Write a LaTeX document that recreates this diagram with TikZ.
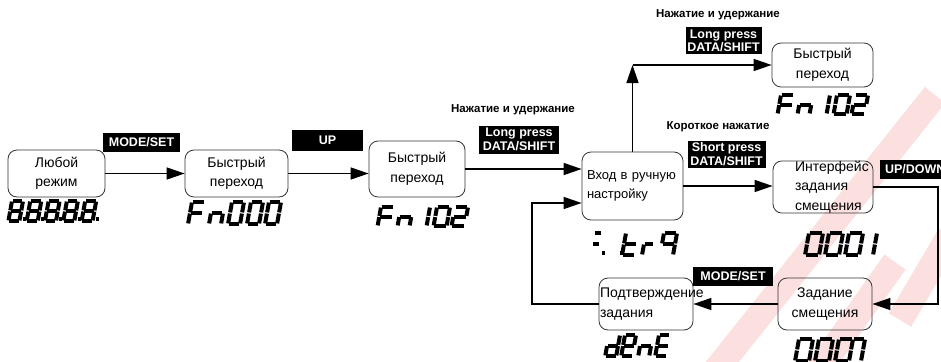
\documentclass[tikz,border=0pt]{standalone}
\usepackage{fontspec}
\setmainfont{Liberation Sans}
\usetikzlibrary{arrows.meta, calc}

\definecolor{markColour}{HTML}{FCE0E0}

\tikzset{
    statebox/.style={draw=black!80, line width=0.8pt, rounded corners=9pt, inner sep=0pt, font=\fontsize{14}{19.5}\selectfont},
    keylabel/.style={fill=black, text=white, font=\bfseries\fontsize{12.5}{13.5}\selectfont, inner sep=0pt, align=center},
    note/.style={font=\bfseries\fontsize{11.5}{13}\selectfont, inner sep=0pt},
    link/.style={line width=1.5pt, -{Triangle[length=18pt,width=12pt]}},
    segline/.style={line width=4pt, shorten >=0.6pt, shorten <=0.6pt},
    watermark/.style={markColour, line width=26pt}
}

% Seven segment character: x, y (top), width, height, segments
\newcommand{\segglyph}[5]{%
    \begin{scope}[shift={(#1,#2)}, xslant=0.18]
        \coordinate (a1) at (0,0);      \coordinate (a2) at (#3,0);
        \coordinate (b1) at (#3,0);     \coordinate (b2) at (#3,#4/2);
        \coordinate (c1) at (#3,#4/2);  \coordinate (c2) at (#3,#4);
        \coordinate (d1) at (0,#4);     \coordinate (d2) at (#3,#4);
        \coordinate (e1) at (0,#4/2);   \coordinate (e2) at (0,#4);
        \coordinate (f1) at (0,0);      \coordinate (f2) at (0,#4/2);
        \coordinate (g1) at (0,#4/2);   \coordinate (g2) at (#3,#4/2);
        \coordinate (p1) at (#3+2.5,#4-2);  \coordinate (p2) at (#3+6.7,#4-2);
        \foreach \s in {#5}
            \draw[segline] (\s1) -- (\s2);
    \end{scope}}

\begin{document}
\begin{tikzpicture}[x=1pt, y=-1pt]
    \useasboundingbox (0,0) rectangle (941,361);

    % Watermark in the background
    \draw[watermark] (712,375) -- (935,95);
    \draw[watermark] (815,375) -- (895,262);
    \draw[watermark] (900,320) -- (950,235);

    % Draw the states
    \node[statebox, text width=97pt, minimum height=47pt, align=center] (anyMode) at (56.5,173.5) {Любой\\режим};
    \node[statebox, text width=103pt, minimum height=47pt, align=center] (quickOne) at (236.5,173.5) {Быстрый\\переход};
    \node[statebox, text width=96pt, minimum height=56pt, align=center] (quickTwo) at (417,169) {Быстрый\\переход};
    \node[statebox, font=\fontsize{13}{19}\selectfont, text width=91pt, inner xsep=5pt, minimum height=68pt, align=left] (manualSet) at (632.5,186) {Вход в ручную\\настройку};
    \node[statebox, text width=101pt, minimum height=44pt, align=center] (quickTop) at (822.5,65) {Быстрый\\переход};
    \node[statebox, text width=56pt, inner xsep=22pt, minimum height=50pt, align=left] (offsetMenu) at (823,187) {Интерфейс\\задания\\смещения};
    \node[statebox, text width=94pt, minimum height=52pt, align=center] (offsetSet) at (825,304) {Задание\\смещения};
    \node[statebox, text width=92pt, inner xsep=1pt, minimum height=52pt, align=left] (confirmSet) at (646,304) {Подтверждение\\задания};

    % Key labels
    \node[keylabel, minimum width=77pt, minimum height=19pt] (modeKeyA) at (141.5,142.5) {MODE/SET};
    \node[keylabel, minimum width=71pt, minimum height=21pt] (upKey) at (327.5,140.5) {UP};
    \node[keylabel, minimum width=80pt, minimum height=28pt] (longKeyA) at (519,139.5) {Long press\\DATA/SHIFT};
    \node[keylabel, minimum width=76pt, minimum height=27pt] (longKeyB) at (723.5,41) {Long press\\DATA/SHIFT};
    \node[keylabel, minimum width=78pt, minimum height=27pt] (shortKey) at (726.5,154) {Short press\\DATA/SHIFT};
    \node[keylabel, anchor=west, minimum width=70pt, minimum height=19pt] (updownKey) at (880,169) {UP/DOWN};
    \node[keylabel, minimum width=80pt, minimum height=19pt] (modeKeyB) at (733,276) {MODE/SET};

    % Notes above the keys
    \node[note] (holdA) at (513,110) {Нажатие и удержание};
    \node[note] (holdB) at (718,15) {Нажатие и удержание};
    \node[note] (shortPress) at (718,127) {Короткое нажатие};

    % Draw the connectors
    \coordinate (turnUp) at (manualSet.north |- quickTop.west);
    \coordinate (loopRight) at (938,0);
    \coordinate (loopLeft) at (532,203);
    \draw[link] (anyMode.east) -- (quickOne.west);
    \draw[link] (quickOne.east) -- (quickOne.east -| quickTwo.west);
    \draw[link] (quickTwo.east) -- (quickTwo.east -| manualSet.west);
    \draw[link] (manualSet.north) -- (turnUp);
    \draw[link] (turnUp) -- (quickTop.west);
    \draw[link] (manualSet.east) -- (manualSet.east -| offsetMenu.west);
    \draw[link] (offsetMenu.east) -| (loopRight |- offsetSet.east) -- (offsetSet.east);
    \draw[link] (offsetSet.west) -- (confirmSet.east);
    \draw[link] (confirmSet.west) -| (loopLeft) -- (loopLeft -| manualSet.west);

    % Displays: 8.8.8.8.8.
    \foreach \i in {0,...,4}
        \segglyph{12+18.3*\i}{201}{11}{20}{a,b,c,d,e,f,g,p};

    % Fn000
    \segglyph{192}{202}{13}{22}{a,f,e,g}
    \segglyph{213}{202}{12}{22}{c,e,g}
    \foreach \px in {232,251,269}
        \segglyph{\px}{202}{12}{22}{a,b,c,d,e,f};

    % Fn 102 (twice)
    \foreach \dx/\dy in {0/0, 400/-112} {
        \segglyph{381+\dx}{207+\dy}{13}{19}{a,f,e,g}
        \segglyph{401+\dx}{207+\dy}{12}{19}{c,e,g}
        \segglyph{420+\dx}{207+\dy}{10}{19}{b,c}
        \segglyph{437+\dx}{207+\dy}{13}{19}{a,b,c,d,e,f}
        \segglyph{455+\dx}{207+\dy}{13}{19}{a,b,g,e,d}
    }

    % =. .tr9
    \segglyph{594}{233}{8}{22}{a,g,p}
    \segglyph{612}{233}{8}{22}{p}
    \segglyph{626}{233}{13}{22}{d,e,f,g}
    \segglyph{646}{233}{10}{22}{e,g}
    \segglyph{664}{233}{13}{22}{a,b,c,f,g}

    % 0001
    \foreach \px in {809,829,849}
        \segglyph{\px}{233}{14}{22}{a,b,c,d,e,f};
    \segglyph{867}{233}{10}{22}{b,c}

    % 0007
    \foreach \px in {799,819,839}
        \segglyph{\px}{339}{14}{22}{a,b,c,d,e,f};
    \segglyph{853}{339}{12}{22}{a,b,c}

    % dent
    \segglyph{609}{335}{11}{21}{b,c,d,e,g}
    \segglyph{625}{335}{11}{21}{a,b,d,e,f,g}
    \segglyph{642}{335}{11}{21}{c,e,g}
    \segglyph{659}{335}{11}{21}{a,d,e,f,g}

\end{tikzpicture}
\end{document}
